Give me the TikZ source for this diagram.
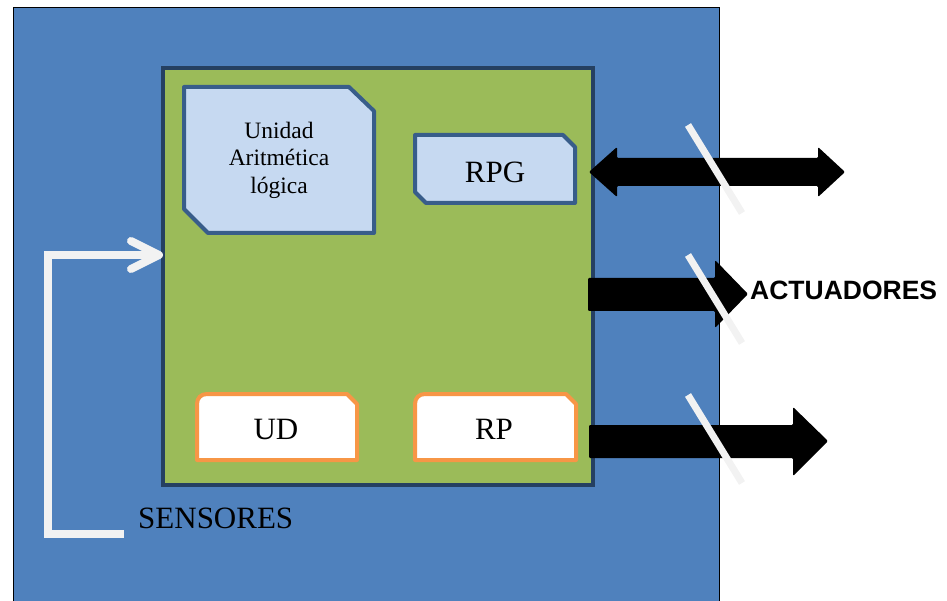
\documentclass[tikz,border=0pt]{standalone}
\usepackage{fontspec}
\setmainfont{Liberation Serif}
\newfontfamily\labelsans{Liberation Sans}
\definecolor{panelblue}{HTML}{4F81BD}
\definecolor{cpugreen}{HTML}{9BBB59}
\definecolor{cpuedge}{HTML}{254061}
\definecolor{unitfill}{HTML}{C6D9F1}
\definecolor{unitedge}{HTML}{385D8A}
\definecolor{regedge}{HTML}{F79646}
\definecolor{softwhite}{HTML}{F2F2F2}
\tikzset{
  unitbox/.style={fill=unitfill, draw=unitedge, line width=4pt, line join=round},
  regbox/.style={fill=white, draw=regedge, line width=4pt, line join=round},
  busarrow/.style={fill=black, rounded corners=1.2pt},
  busslash/.style={draw=softwhite, line width=7pt},
  feedback/.style={draw=softwhite, line width=8pt},
  label/.style={inner sep=0pt, anchor=base, font=\fontsize{31}{31}\selectfont},
}
\begin{document}
\begin{tikzpicture}[x=1pt, y=-1pt]
\useasboundingbox (0,0) rectangle (947,601);
\begin{scope}
\clip (0,0) rectangle (947,601);
% outer panel
\draw[fill=panelblue, draw=black, line width=1pt] (13,8) rectangle (719,620);
\end{scope}

% processor block
\node[fill=cpugreen, draw=cpuedge, line width=4pt, minimum width=430pt,
      minimum height=417pt, inner sep=0pt] (cpu) at (378,276.5) {};

% arithmetic-logic unit
\draw[unitbox] (184,87) -- (349,87) -- (374,111) -- (374,233) -- (208,233) -- (184,209) -- cycle;
\node[inner sep=0pt, align=center, font=\fontsize{23.5}{27.5}\selectfont] (alu) at (279,160)
  {Unidad\\Aritmética\\lógica};

% general purpose register
\draw[unitbox] (415,135) -- (563,135) -- (575,147) -- (575,203) -- (426,203) -- (415,192) -- cycle;
\node[label] (rpg) at (495,183) {RPG};

% UD and RP registers
\draw[regbox] (197,460) -- (197,404) .. controls (197,398) and (201,394) .. (207,394)
  -- (347,394) -- (357,404) -- (357,460) -- cycle;
\node[label] (ud) at (276,439) {UD};
\draw[regbox] (415,460) -- (415,404) .. controls (415,398) and (419,394) .. (425,394)
  -- (566,394) -- (576,404) -- (576,460) -- cycle;
\node[label] (rp) at (494,439) {RP};

% bus arrows
\fill[busarrow] (589,172) -- (617,147) -- (617,158) -- (818,158) -- (818,147) -- (845,172)
  -- (818,197) -- (818,186) -- (617,186) -- (617,197) -- cycle;
\fill[busarrow] (588,278) -- (715,278) -- (715,260) -- (748,294) -- (715,328) -- (715,311)
  -- (588,311) -- cycle;
\fill[busarrow] (589,425) -- (793,425) -- (793,407) -- (828,441) -- (793,476) -- (793,458)
  -- (589,458) -- cycle;

% bus width marks
\draw[busslash] (688,125) -- (742,213);
\draw[busslash] (688,255) -- (742,343);
\draw[busslash] (688,395) -- (742,483);

\node[inner sep=0pt, anchor=west, font=\labelsans\bfseries\fontsize{26.5}{26.5}\selectfont]
  (act) at (750,290) {ACTUADORES};

% sensor feedback path
\coordinate (sensend) at (124,534);
\coordinate (tip) at (159,255);
\draw[feedback] (sensend) -- (47.5,534) -- (47.5,255) -- (tip);
\draw[feedback, line cap=round, line join=round] (131,241) -- (tip) -- (131,269);
\node[label, anchor=base west] (sens) at (138,528) {SENSORES};
\end{tikzpicture}
\end{document}
